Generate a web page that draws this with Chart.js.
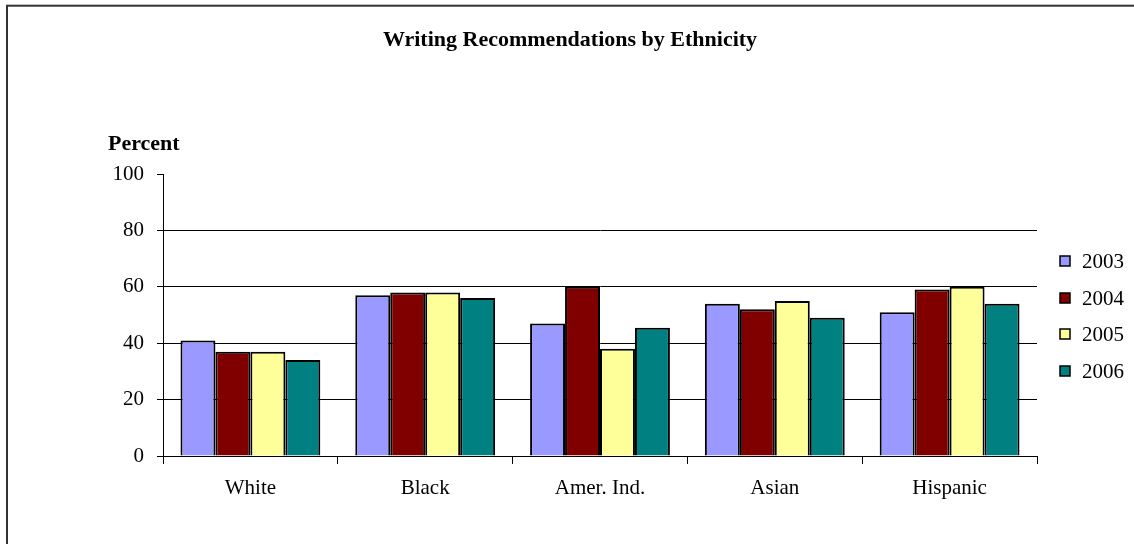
<!DOCTYPE html>
<html>
<head>
<meta charset="utf-8">
<script src="https://cdn.jsdelivr.net/npm/chart.js@4/dist/chart.umd.min.js"></script>
<style>
  html, body { margin: 0; padding: 0; background: #fff; }
  #c { display: block; }
</style>
</head>
<body>
<canvas id="c" width="1134" height="544"></canvas>
<script>
// 各族群寫作推薦百分比 — 2003~2006
const CATEGORIES = ['White', 'Black', 'Amer. Ind.', 'Asian', 'Hispanic'];
const YEARS = ['2003', '2004', '2005', '2006'];
const V2003 = [41, 57, 47, 54, 51];
const V2004 = [37, 58, 60, 52, 59];
const V2005 = [37, 58, 38, 55, 60];
const V2006 = [34, 56, 45.5, 49, 54];
const Y_TICKS = [0, 20, 40, 60, 80, 100];

const COLORS = ['#9999ff', '#800000', '#ffff99', '#008080'];
const SERIF = '"Liberation Serif", "Times New Roman", serif';
const TITLE = 'Writing Recommendations by Ethnicity';

// 外框、標題、Percent、圖例 — 自己畫
const decor = {
  id: 'decor',
  beforeDraw(chart) {
    const { ctx } = chart;
    ctx.save();
    ctx.fillStyle = '#fff';
    ctx.fillRect(0, 0, chart.width, chart.height);
    ctx.strokeStyle = '#333';
    ctx.lineWidth = 2;
    ctx.strokeRect(7, 5.7, 1200, 700);
    ctx.restore();
  },
  afterDraw(chart) {
    const { ctx } = chart;
    ctx.save();
    ctx.fillStyle = '#000';
    ctx.textBaseline = 'middle';
    ctx.font = `bold 22px ${SERIF}`;
    ctx.textAlign = 'center';
    ctx.fillText(TITLE, 570, 40);
    ctx.textAlign = 'left';
    ctx.font = `bold 22px ${SERIF}`;
    ctx.fillText('Percent', 108, 144);
    // legend
    const ys = [261, 298, 334, 371];
    ctx.font = `21px ${SERIF}`;
    chart.data.datasets.forEach((ds, i) => {
      ctx.fillStyle = ds.backgroundColor;
      ctx.fillRect(1060, ys[i] - 5, 10, 10);
      ctx.strokeStyle = '#000';
      ctx.lineWidth = 1.5;
      ctx.strokeRect(1060, ys[i] - 5, 10, 10);
      ctx.fillStyle = '#000';
      ctx.fillText(ds.label, 1082, ys[i] + 1);
    });
    ctx.restore();
  }
};

const series = [V2003, V2004, V2005, V2006];

new Chart(document.getElementById('c').getContext('2d'), {
  type: 'bar',
  data: {
    labels: CATEGORIES,
    datasets: YEARS.map((y, i) => ({
      label: y,
      data: series[i],
      backgroundColor: COLORS[i],
      borderColor: '#000',
      borderWidth: 2,
      categoryPercentage: 0.8,
      barPercentage: 1.0,
    }))
  },
  options: {
    responsive: false,
    animation: false,
    devicePixelRatio: 1,
    layout: { padding: { top: 174, left: 0, right: 97, bottom: 0 } },
    plugins: {
      legend: { display: false },
      title: { display: false },
      tooltip: { enabled: false },
    },
    scales: {
      x: {
        afterFit: s => { s.height = 88; },
        grid: { drawOnChartArea: false, offset: true, tickLength: 8, color: '#000', tickColor: '#000' },
        border: { display: true, color: '#000', width: 1 },
        ticks: { color: '#000', font: { family: SERIF, size: 21 }, padding: 12 },
      },
      y: {
        min: 0, max: 100,
        afterFit: s => { s.width = 163; },
        afterBuildTicks: s => { s.ticks = Y_TICKS.map(v => ({ value: v })); },
        grid: {
          color: c => (c.tick && c.tick.value === 100) ? 'rgba(0,0,0,0)' : '#000',
          tickColor: '#000', tickLength: 6, lineWidth: 1,
        },
        border: { display: true, color: '#000', width: 1 },
        ticks: { color: '#000', font: { family: SERIF, size: 21 }, padding: 13 },
      }
    }
  },
  plugins: [decor]
});
</script>
</body>
</html>
